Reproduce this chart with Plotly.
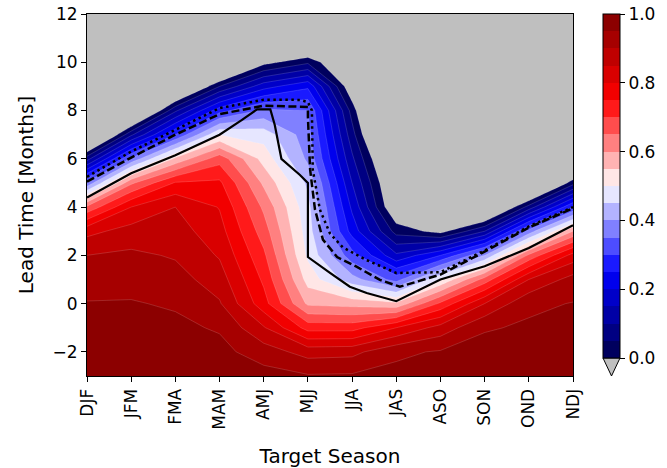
import plotly.graph_objects as go

seasons = ["DJF", "JFM", "FMA", "MAM", "AMJ", "MJJ", "JJA", "JAS", "ASO", "SON", "OND", "NDJ"]
lead_times = list(range(-3, 13))  # -3 .. 12

# correlation values per target season, for lead times -3..12
acc_DJF = [0.99, 0.98, 0.97, 0.953, 0.925, 0.90, 0.835, 0.66, 0.36, 0.08, -0.2, -0.45, -0.6, -0.7, -0.8, -0.85]
acc_JFM = [0.99, 0.985, 0.97, 0.953, 0.935, 0.91, 0.87, 0.80, 0.64, 0.36, 0.09, -0.18, -0.4, -0.55, -0.65, -0.75]
acc_FMA = [0.99, 0.98, 0.96, 0.945, 0.92, 0.895, 0.872, 0.85, 0.755, 0.56, 0.30, 0.09, -0.15, -0.35, -0.5, -0.6]
acc_MAM = [0.985, 0.965, 0.945, 0.905, 0.875, 0.845, 0.82, 0.797, 0.76, 0.68, 0.50, 0.28, 0.05, -0.2, -0.4, -0.5]
acc_AMJ = [0.97, 0.925, 0.855, 0.77, 0.74, 0.71, 0.675, 0.64, 0.59, 0.53, 0.48, 0.36, 0.18, -0.02, -0.3, -0.45]
acc_MJJ = [0.955, 0.88, 0.73, 0.59, 0.53, 0.49, 0.475, 0.465, 0.44, 0.39, 0.37, 0.35, 0.24, 0.04, -0.16, -0.45]
acc_JJA = [0.957, 0.885, 0.73, 0.58, 0.42, 0.32, 0.23, 0.19, 0.15, 0.11, 0.07, 0.03, -0.05, -0.1, -0.3, -0.55]
acc_JAS = [0.965, 0.94, 0.80, 0.56, 0.33, 0.16, 0.03, -0.065, -0.09, -0.135, -0.23, -0.3, -0.4, -0.5, -0.55, -0.6]
acc_ASO = [0.975, 0.955, 0.87, 0.71, 0.50, 0.25, -0.02, -0.2, -0.3, -0.4, -0.45, -0.5, -0.55, -0.6, -0.6, -0.6]
acc_SON = [0.98, 0.97, 0.945, 0.85, 0.67, 0.40, 0.10, -0.15, -0.3, -0.4, -0.45, -0.5, -0.55, -0.6, -0.6, -0.6]
acc_OND = [0.985, 0.975, 0.957, 0.94, 0.85, 0.66, 0.37, 0.07, -0.2, -0.35, -0.45, -0.5, -0.55, -0.6, -0.6, -0.6]
acc_NDJ = [0.99, 0.98, 0.97, 0.952, 0.92, 0.82, 0.60, 0.30, 0.03, -0.2, -0.35, -0.45, -0.5, -0.55, -0.6, -0.6]

# black contour lines (season index, lead time)
solid_x = [0, 1, 2, 3, 3.5, 3.85, 4.15, 4.25, 4.4, 4.82, 5.0, 5.0, 5.5, 5.95, 6.33, 7.0, 8.0, 9.0, 10.0, 11.0]
solid_y = [4.4, 5.4, 6.15, 7.0, 7.6, 8.05, 8.05, 7.4, 6.0, 5.33, 5.0, 1.93, 1.27, 0.7, 0.44, 0.1, 1.0, 1.55, 2.3, 3.25]
dashed_x = [0, 1, 2, 3, 4, 5.0, 5.0, 5.05, 5.16, 5.34, 5.66, 6.11, 6.63, 7.08, 8.0, 9.0, 10.0, 11.0]
dashed_y = [5.05, 6.05, 7.0, 7.85, 8.2, 8.15, 7.75, 5.55, 3.9, 2.65, 1.93, 1.52, 0.98, 0.7, 1.2, 2.15, 3.15, 3.95]
dotted_x = [0, 1, 2, 3, 4, 4.82, 5.0, 5.09, 5.11, 5.27, 5.5, 5.79, 6.33, 7.0, 8.0, 9.0, 10.0, 11.0]
dotted_y = [5.25, 6.3, 7.2, 8.1, 8.45, 8.44, 8.35, 8.0, 5.55, 3.9, 2.9, 2.33, 1.8, 1.27, 1.3, 2.2, 3.2, 4.0]

colorbar_ticks = [0.0, 0.2, 0.4, 0.6, 0.8, 1.0]

columns = [acc_DJF, acc_JFM, acc_FMA, acc_MAM, acc_AMJ, acc_MJJ, acc_JJA, acc_JAS, acc_ASO, acc_SON, acc_OND, acc_NDJ]
z = [[col[i] for col in columns] for i in range(len(lead_times))]
xs = list(range(len(seasons)))

seismic = ['#00005e', '#000082', '#0000a6', '#0000c9', '#0000ed', '#1a1aff', '#4d4dff', '#8080ff', '#b3b3ff', '#e6e6ff',
           '#ffe6e6', '#ffb3b3', '#ff8080', '#ff4d4d', '#ff1a1a', '#f20000', '#d90000', '#bf0000', '#a60000', '#8c0000']
under = '#bfbfbf'

# contour fill colorscale: gray below 0 then 20 bins; bin k centred at k/20
fill_cols = [under] + seismic
cs_fill = []
for k, c in enumerate(fill_cols):
    lo = max(0.0, (k - 0.5) / 20)
    hi = min(1.0, (k + 0.5) / 20)
    cs_fill.append([lo, c])
    cs_fill.append([hi, c])

cs_bar = []
for k, c in enumerate(seismic):
    cs_bar.append([k / 20, c])
    cs_bar.append([(k + 1) / 20, c])

FONT = "DejaVu Sans"
# plot area at x 87..573, y 14..376 of the 667x468 window
PW, PH = 486, 362
fig = go.Figure()
fig.add_trace(go.Contour(
    x=xs, y=lead_times, z=z,
    colorscale=cs_fill, showscale=False, autocontour=False,
    contours=dict(start=0, end=0.95, size=0.05, coloring='fill', showlines=True),
    line=dict(width=0.5, color='rgba(255,255,255,0.3)', smoothing=0),
    hoverinfo='skip'))

fig.add_trace(go.Scatter(x=solid_x, y=solid_y, mode='lines', line=dict(color='black', width=2.2), showlegend=False))
fig.add_trace(go.Scatter(x=dashed_x, y=dashed_y, mode='lines', line=dict(color='black', width=2.5, dash='8px,3.5px'), showlegend=False))
fig.add_trace(go.Scatter(x=dotted_x, y=dotted_y, mode='lines', line=dict(color='black', width=2.5, dash='2.5px,3.5px'), showlegend=False))

# colorbar carrier
cbar = dict(x=(603 - 87) / PW, xanchor='left', xpad=0, ypad=0,
            y=(376 - 358) / PH, yanchor='bottom', len=(358 - 14) / PH, lenmode='fraction',
            thickness=17, outlinewidth=1, outlinecolor='black',
            tickvals=colorbar_ticks, ticktext=[f"{v:.1f}" for v in colorbar_ticks],
            ticks='outside', ticklen=5, tickcolor='black', ticklabeloverflow='allow',
            tickfont=dict(family=FONT, size=17, color='black'))
fig.add_trace(go.Scatter(x=[None], y=[None], mode='markers', showlegend=False,
                         marker=dict(color=[0.5], cmin=0, cmax=1, colorscale=cs_bar, showscale=True, colorbar=cbar)))

# extend-min triangle
fig.add_shape(type='path', xref='paper', yref='paper',
              path=f"M {(603-87)/PW} {(376-358)/PH} L {(620-87)/PW} {(376-358)/PH} L {(611.5-87)/PW} 0 Z",
              fillcolor=under, line=dict(color='black', width=1))

fig.update_layout(
    width=667, height=468,
    margin=dict(l=87, r=94, t=14, b=92, autoexpand=False),
    paper_bgcolor='white', plot_bgcolor=under,
    font=dict(family=FONT, size=17, color='black'),
    showlegend=False,
    xaxis=dict(range=[0, 11], tickvals=xs, ticktext=seasons, tickangle=-90,
               ticks='outside', ticklen=5, tickcolor='black', showline=True, linecolor='black', linewidth=1,
               mirror=True, showgrid=False, zeroline=False, automargin=False, ticklabeloverflow='allow',
               title=dict(text='Target Season', font=dict(size=20), standoff=20)),
    yaxis=dict(range=[-3, 12], tickvals=list(range(-2, 13, 2)),
               ticks='outside', ticklen=5, tickcolor='black', showline=True, linecolor='black', linewidth=1,
               mirror=True, showgrid=False, zeroline=False, automargin=False, ticklabeloverflow='allow',
               title=dict(text='Lead Time [Months]', font=dict(size=20), standoff=13)),
)

fig.write_html("out.html", config={'displayModeBar': False},
               post_script="document.body.style.margin='0';")
